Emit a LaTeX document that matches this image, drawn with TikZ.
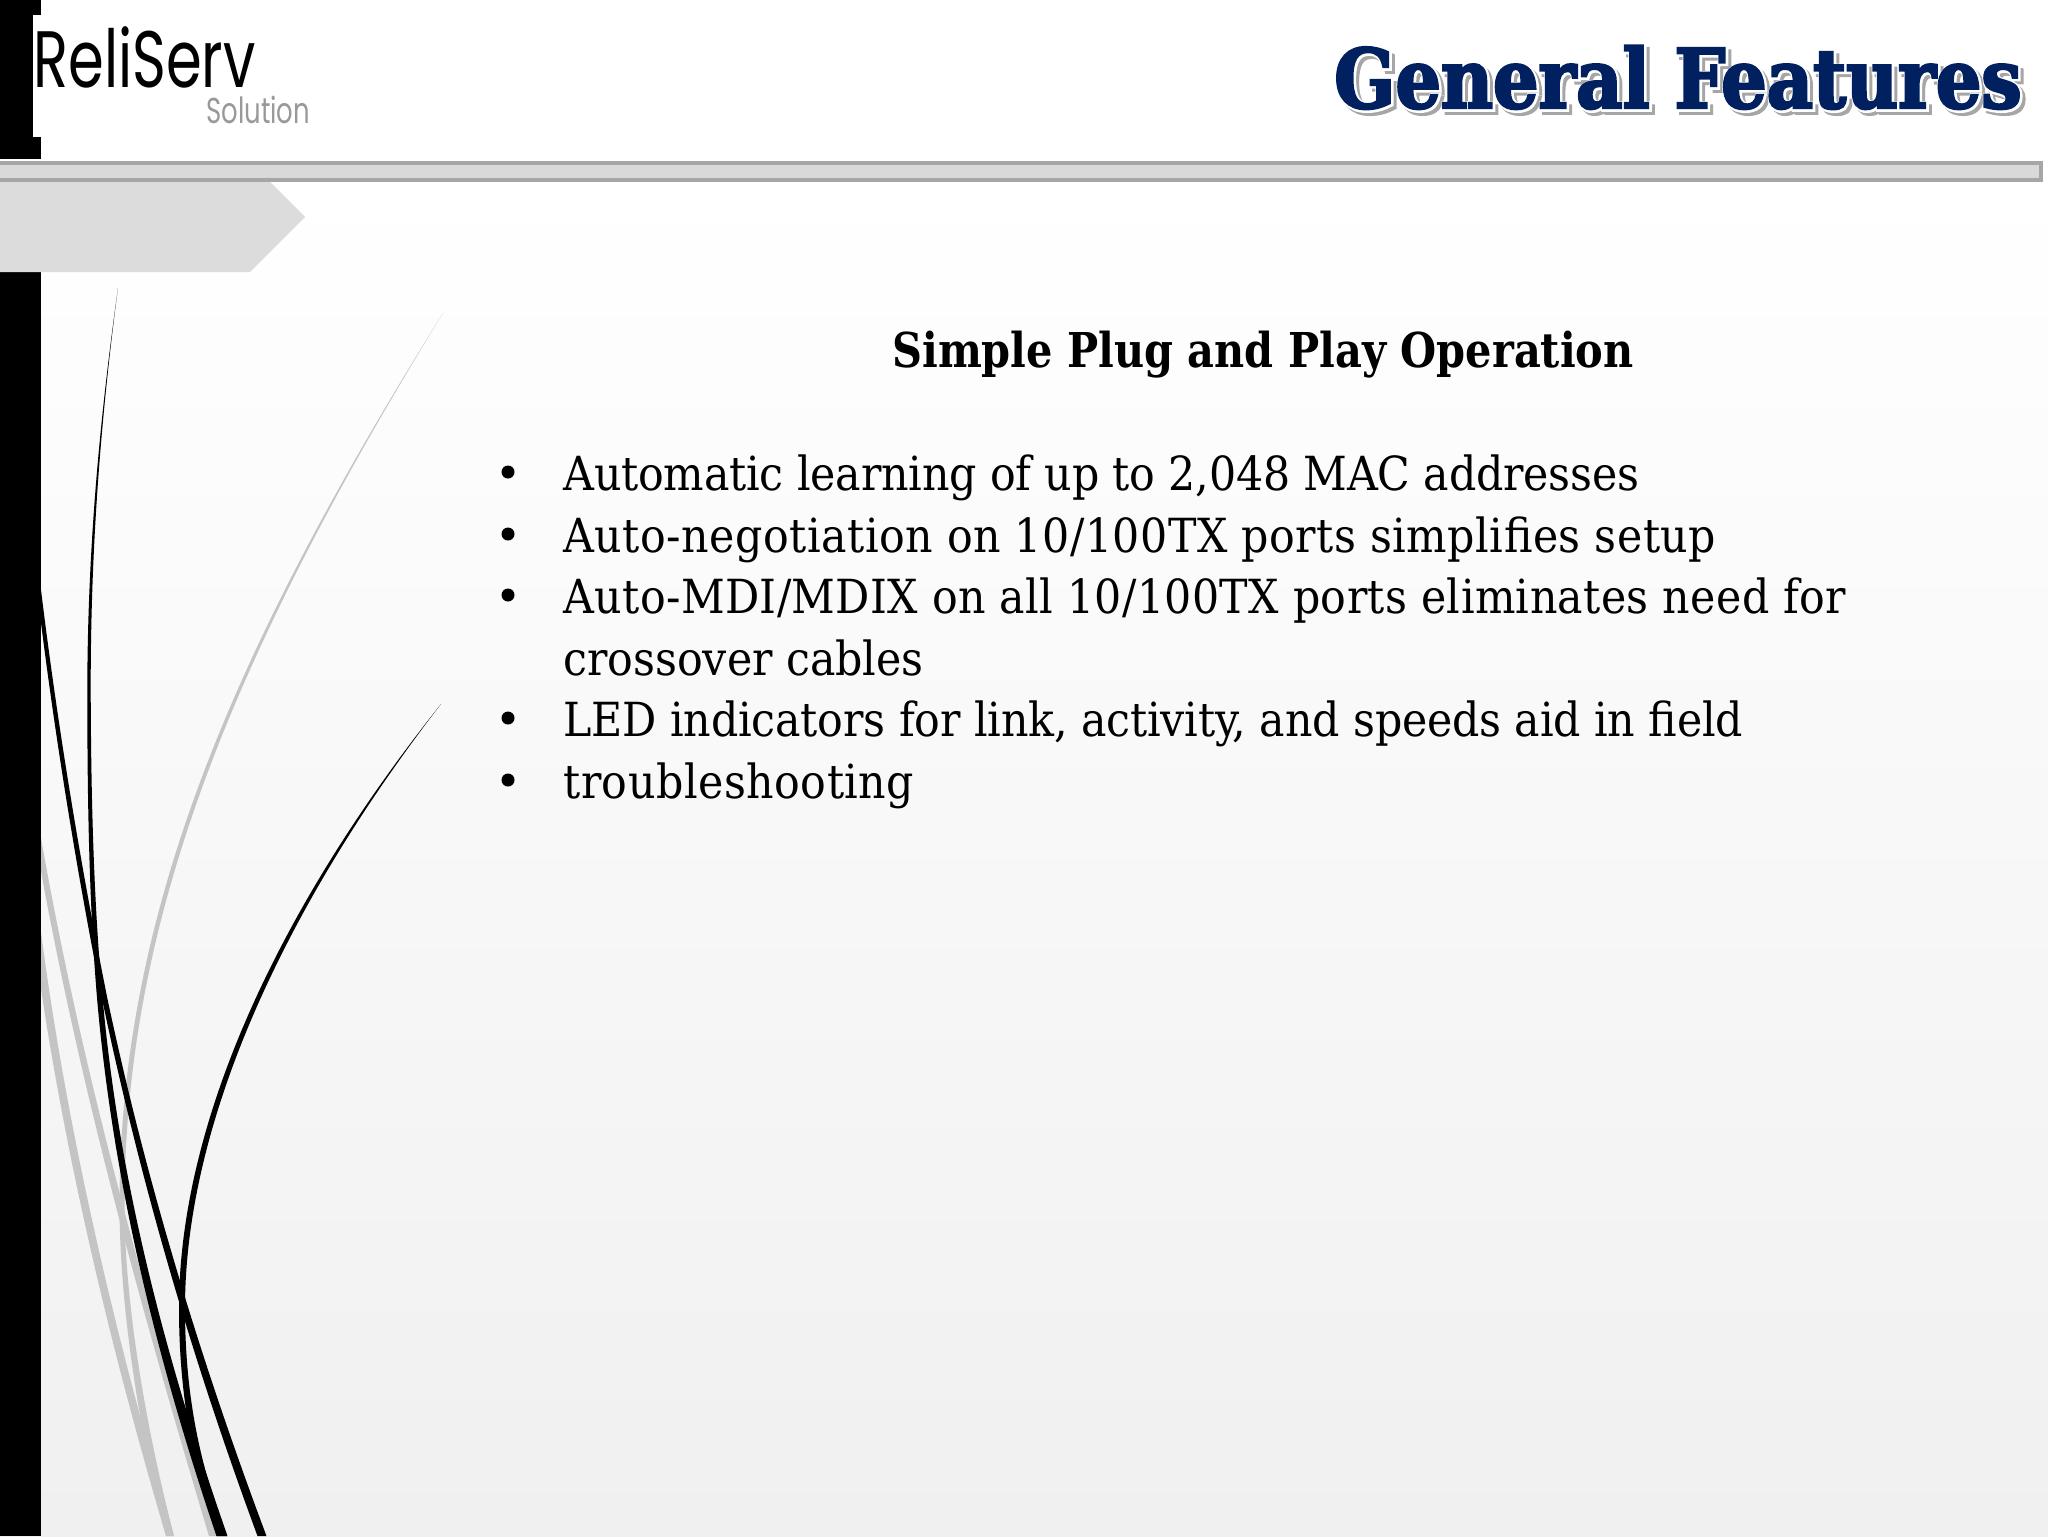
\documentclass[tikz,border=0pt]{standalone}
\usepackage{fontspec}
\setmainfont{Liberation Serif}
\newfontfamily\bodyfont[FakeStretch=1.01]{DejaVu Serif Condensed}
\newfontfamily\headfont[UprightFont=* Bold,FakeStretch=0.96]{DejaVu Serif Condensed}
\newfontfamily\logofont[FakeStretch=0.72]{Poppins}
\newfontfamily\titlefont[UprightFont=* Bold,FakeBold=3,FakeStretch=0.97]{DejaVu Serif Condensed}
\newfontfamily\titlehalo[UprightFont=* Bold,FakeBold=7,FakeStretch=0.97]{DejaVu Serif Condensed}
\definecolor{navytitle}{HTML}{002060}
\definecolor{bargray}{HTML}{D9D9D9}
\definecolor{barline}{HTML}{A6A6A6}
\definecolor{arrowgray}{HTML}{DCDCDC}
\definecolor{bladegray}{HTML}{C4C4C4}
\definecolor{pagegray}{HTML}{F0F0F0}
\tikzset{
  bodyline/.style={anchor=base west, inner sep=0pt, font=\bodyfont\fontsize{23.5}{28}\selectfont},
  dotmark/.style={circle, fill=black, inner sep=0pt, minimum size=6.5pt},
  titleline/.style={anchor=base east, inner sep=0pt}
}
\begin{document}
\begin{tikzpicture}[x=0.5pt,y=-0.5pt]
    \useasboundingbox (0,0) rectangle (2048,1536);
    \shade[top color=white, bottom color=pagegray, middle color=white!50!pagegray, shading angle=0] (0,180) rectangle (2048,1536);

    % gray blades
    \fill[bladegray] (443,313) .. controls (241,636) and (119.5,905) .. (119.5,1205) .. controls (119.5,1310) and (141,1440) .. (166,1536)
      -- (174,1536) .. controls (149,1440) and (124.5,1310) .. (124.5,1205) .. controls (124.5,905) and (245,636) .. (443,313) -- cycle;
    \fill[bladegray] (27,790) .. controls (67,1040) and (134,1286) .. (209,1536)
      -- (217,1536) .. controls (142,1286) and (73,1040) .. (33,790) -- cycle;
    \fill[bladegray] (29,900) .. controls (54,1110) and (104,1326) .. (166,1536)
      -- (174,1536) .. controls (112,1326) and (62,1110) .. (37,900) -- cycle;

    % black blades
    \fill[black] (118,288) .. controls (99.5,420) and (87.5,550) .. (87.3,690) .. controls (87.3,790) and (88.7,900) .. (97.2,1000) .. controls (113,1180) and (155.5,1356) .. (216.5,1536)
      -- (227.5,1536) .. controls (164.5,1356) and (119,1180) .. (102.8,1000) .. controls (93.3,900) and (91,790) .. (90.7,690) .. controls (90.5,550) and (100.5,420) .. (118,288) -- cycle;
    \fill[black] (28,510) .. controls (44,665) and (69.5,835) .. (102.3,1000) .. controls (140,1180) and (191,1356) .. (257.5,1536)
      -- (266.5,1536) .. controls (199,1356) and (146,1180) .. (107.7,1000) .. controls (74.5,835) and (48,665) .. (32,510) -- cycle;
    \fill[black] (441,704) .. controls (273.5,914) and (179,1128) .. (179,1308) .. controls (179,1400) and (194.5,1470) .. (217,1536)
      -- (227,1536) .. controls (201.5,1470) and (185,1400) .. (185,1308) .. controls (185,1128) and (279,914) .. (441,704) -- cycle;

    % frame of the slide
    \fill[black] (0,0) rectangle (41,159);
    \fill[white] (33,15) rectangle (41,137);
    \fill[black] (0,272) rectangle (41,1536);
    \fill[arrowgray] (0,162) -- (250,162) -- (305,217) -- (250,272) -- (0,272) -- cycle;
    \draw[barline, line width=1.6pt, fill=bargray] (-5,163) rectangle (2041,180);

    % logo
    \node[anchor=base west, inner sep=0pt, font=\logofont\fontsize{40}{48}\selectfont] (logoname) at (33,88) {ReliServ};
    \node[anchor=base west, inner sep=0pt, text=black!40, font=\logofont\fontsize{18}{22}\selectfont] (logosub) at (206,124) {Solution};

    % title
    \node[titleline, text=black!35, font=\titlehalo\fontsize{41}{50}\selectfont] (titleshade) at (2026,112) {General Features};
    \node[titleline, text=white, font=\titlehalo\fontsize{41}{50}\selectfont] (titlehalo) at (2023,109) {General Features};
    \node[titleline, text=navytitle, font=\titlefont\fontsize{41}{50}\selectfont] (title) at (2022,108) {General Features};

    % text
    \node[anchor=base, inner sep=0pt, font=\headfont\fontsize{24}{29}\selectfont] (heading) at (1263,367) {Simple Plug and Play Operation};

    \node[bodyline] (lineone) at (563,490) {\addfontfeature{LetterSpace=-0.4}Automatic learning of up to 2,048 MAC addresses};
    \node[bodyline] (linetwo) at (563,552) {\addfontfeature{LetterSpace=1.1}Auto-negotiation on 10/100TX ports simplifies setup};
    \node[bodyline] (linethree) at (563,613) {\addfontfeature{LetterSpace=0.85}Auto-MDI/MDIX on all 10/100TX ports eliminates need for};
    \node[bodyline] (linefour) at (563,675) {crossover cables};
    \node[bodyline] (linefive) at (563,736) {\addfontfeature{LetterSpace=-0.33}LED indicators for link, activity, and speeds aid in field};
    \node[bodyline] (linesix) at (563,798) {\addfontfeature{LetterSpace=1.1}troubleshooting};

    \node[dotmark] (dotone) at (508,472) {};
    \node[dotmark] (dottwo) at (508,534) {};
    \node[dotmark] (dotthree) at (508,595) {};
    \node[dotmark] (dotfive) at (508,718) {};
    \node[dotmark] (dotsix) at (508,780) {};
\end{tikzpicture}
\end{document}
